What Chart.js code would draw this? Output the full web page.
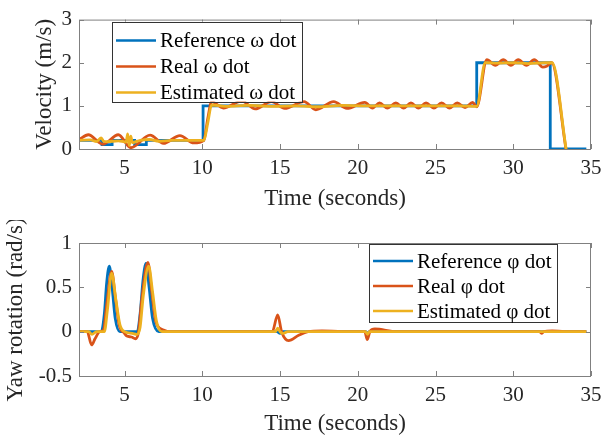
<!DOCTYPE html>
<html>
<head>
<meta charset="utf-8">
<script src="https://cdn.jsdelivr.net/npm/chart.js@4.4.0/dist/chart.umd.min.js"></script>
<style>
  body { margin: 0; background: #fff; }
  canvas { display: block; }
</style>
</head>
<body>
<canvas id="velocity" width="609" height="220"></canvas>
<canvas id="yaw" width="609" height="219"></canvas>
<script>
// tick labels
const timeTicks = [5, 10, 15, 20, 25, 30, 35];
const velTicks = [0, 1, 2, 3];
const yawTicks = [-0.5, 0, 0.5, 1];
const yawTickLabels = ['-0.5', '0', '0.5', '1'];

// top plot: velocity
const refVelT = [2.07, 3.55, 3.55, 4.2, 4.2, 5.65, 5.65, 6.4, 6.4, 10.05, 10.05, 27.65, 27.65, 32.38, 32.38, 34.7];
const refVelY = [0.2, 0.2, 0.1, 0.1, 0.2, 0.2, 0.1, 0.1, 0.2, 0.2, 1, 1, 2, 2, 0, 0];

const realVelT = [2.07, 2.67, 3.6, 4.6, 5.4, 6.64, 7.5, 8.56, 9.45, 10.1, 10.35, 10.6, 11.35, 12.55, 13.4, 14.45, 15.3, 16.55, 17.3, 18.45, 19.3,
  20.45, 20.95, 21.4, 21.9, 22.45, 22.95, 23.42, 23.9, 24.39, 24.9, 25.39, 25.9, 26.4, 26.9, 27.39, 27.65,
  28.3, 28.85, 29.36, 29.85, 30.32, 30.85, 31.35, 31.9, 32.15, 32.47, 33.39];
const realVelY = [0.22, 0.33, 0.11, 0.33, 0.03, 0.32, 0.13, 0.31, 0.14, 0.2, 0.7, 1.1, 0.95, 1.11, 0.93, 1.1, 0.94, 1.1, 0.91, 1.1, 0.94,
  1.08, 0.95, 1.07, 0.95, 1.07, 0.95, 1.07, 0.95, 1.07, 0.95, 1.07, 0.95, 1.07, 0.96, 1.08, 0.98,
  2.07, 1.94, 2.07, 1.94, 2.07, 1.94, 2.07, 1.9, 1.92, 2.0, 0];

const estVelT = [2.07, 2.8, 3.2, 3.5, 3.65, 3.9, 4.6, 5.1, 5.2, 5.3, 5.4, 5.5, 6.0, 6.6, 7.2, 8.0, 9.0, 10.1, 10.35, 10.6, 11.5, 13, 14.5, 16, 17.5,
  19, 20.5, 22, 23.5, 25, 26.5, 27.65, 28.2, 29, 30, 31, 32, 32.5, 33.4];
const estVelY = [0.2, 0.21, 0.17, 0.26, 0.18, 0.17, 0.19, 0.16, 0.35, 0.08, 0.3, 0.15, 0.2, 0.22, 0.18, 0.2, 0.2, 0.2, 0.6, 1.02, 0.99, 1.01, 0.99, 1.0, 0.98,
  1.01, 1.0, 1.0, 1.0, 1.0, 1.0, 0.99, 2.0, 1.99, 2.0, 1.98, 2.0, 2.0, 0];

// bottom plot: yaw rotation
const refYawT = [2.07, 3.5, 3.7, 3.85, 4.02, 4.2, 4.4, 4.7, 5.82, 6.0, 6.2, 6.38, 6.58, 6.8, 7.2, 14.8, 15.0, 15.2, 20.5, 20.62, 20.75, 34.7];
const refYawY = [0, 0, 0.2, 0.55, 0.74, 0.5, 0.15, 0, 0, 0.2, 0.6, 0.77, 0.5, 0.15, 0, 0, -0.02, 0, 0, -0.02, 0, 0];

const realYawT = [2.07, 2.6, 2.88, 3.1, 3.4, 3.65, 3.85, 4.17, 4.4, 4.65, 5.0, 5.15, 5.45, 5.7, 5.9, 6.1, 6.5, 6.75, 7.0, 7.5, 8.0,
  14.5, 14.85, 15.1, 15.55, 16.2, 16.8, 17.7, 19, 20.45, 20.61, 20.78, 21.1, 22.5, 31.7, 31.82, 31.95, 32.5, 33.3, 34.7];
const realYawY = [0, 0, -0.15, -0.08, 0, 0.02, 0.3, 0.68, 0.4, 0.08, -0.02, -0.05, -0.06, -0.08, 0, 0.35, 0.78, 0.45, 0.12, 0.02, 0,
  0, 0.19, 0, -0.1, -0.04, 0, 0.01, 0, 0, -0.09, 0, 0.03, 0, 0, -0.02, 0, 0.01, 0, 0];

const estYawT = [2.07, 2.7, 2.9, 3.2, 3.7, 3.9, 4.17, 4.45, 4.7, 5.0, 5.5, 5.8, 6.0, 6.2, 6.55, 6.8, 7.05, 7.4, 14.7, 14.85, 15.0, 15.2, 15.5,
  20.5, 20.62, 20.75, 34.7];
const estYawY = [0, 0, -0.03, 0, 0, 0.25, 0.66, 0.35, 0.08, 0, -0.02, -0.03, 0.05, 0.4, 0.74, 0.45, 0.12, 0, 0, 0.04, 0, -0.02, 0,
  0, -0.03, 0, 0];

const blue = '#0072BD', orange = '#D95319', yellow = '#EDB120';
const axisGray = '#808080', textColor = '#262626';
const fontFamily = "'Liberation Serif', 'Times New Roman', serif";

function pts(t, y) {
  return t.map((v, i) => ({x: v, y: y[i]}));
}

// box round the axes, with MATLAB-style inward ticks on all four sides
const boxPlugin = {
  id: 'box',
  afterDatasetsDraw(chart) {
    const {ctx, chartArea: a, scales: {x, y}} = chart;
    ctx.save();
    ctx.strokeStyle = axisGray;
    ctx.lineWidth = 1;
    ctx.strokeRect(a.left + 0.5, a.top + 0.5, a.right - a.left - 1, a.bottom - a.top);
    ctx.beginPath();
    x.ticks.forEach(t => {
      const px = Math.round(x.getPixelForValue(t.value)) + 0.5;
      ctx.moveTo(px, a.bottom); ctx.lineTo(px, a.bottom - 5);
      ctx.moveTo(px, a.top); ctx.lineTo(px, a.top + 5);
    });
    y.ticks.forEach(t => {
      const py = Math.round(y.getPixelForValue(t.value)) + 0.5;
      ctx.moveTo(a.left, py); ctx.lineTo(a.left + 5, py);
      ctx.moveTo(a.right, py); ctx.lineTo(a.right - 5, py);
    });
    ctx.stroke();
    ctx.restore();
  }
};

// legend inside the axes, with a border
const boxLegend = {
  id: 'boxLegend',
  afterDraw(chart, args, opts) {
    const {ctx, chartArea: a} = chart;
    const left = opts.right != null ? a.right - opts.right - opts.width : a.left + opts.left;
    const top = a.top + opts.top;
    ctx.save();
    ctx.fillStyle = '#fff';
    ctx.fillRect(left, top, opts.width, opts.height);
    ctx.strokeStyle = '#333';
    ctx.lineWidth = 1;
    ctx.strokeRect(Math.round(left) + 0.5, Math.round(top) + 0.5, opts.width, opts.height);
    ctx.font = '21px ' + fontFamily;
    ctx.textBaseline = 'middle';
    chart.data.datasets.forEach((ds, i) => {
      const cy = top + opts.firstRow + i * opts.rowGap;
      ctx.strokeStyle = ds.borderColor;
      ctx.lineWidth = 2.5;
      ctx.beginPath();
      ctx.moveTo(left + 4, cy);
      ctx.lineTo(left + 44, cy);
      ctx.stroke();
      ctx.fillStyle = '#000';
      ctx.fillText(ds.label, left + 48, cy + 1);
    });
    ctx.restore();
  }
};

function makeChart(id, sets, yMin, yMax, yTicks, yLabel, yFmt, lay) {
  return new Chart(document.getElementById(id), {
    type: 'line',
    data: {
      datasets: sets.map(s => ({
        label: s.label,
        data: pts(s.t, s.y),
        borderColor: s.color,
        borderWidth: 2.8,
        pointRadius: 0,
        cubicInterpolationMode: s.smooth ? 'monotone' : 'default',
        tension: 0,
        order: s.order
      }))
    },
    options: {
      responsive: false,
      animation: false,
      devicePixelRatio: 1,
      layout: {padding: {left: 0, right: 18, top: lay.top, bottom: 0}},
      plugins: {
        legend: {display: false},
        tooltip: {enabled: false},
        boxLegend: lay.legend
      },
      scales: {
        x: {
          type: 'linear',
          min: 2.07,
          max: 35,
          afterBuildTicks: s => { s.ticks = timeTicks.map(v => ({value: v})); },
          afterFit: s => { s.height = lay.xHeight; },
          grid: {display: false, drawTicks: false},
          border: {display: false},
          ticks: {color: textColor, font: {family: fontFamily, size: 21}, padding: 7, maxRotation: 0},
          title: {display: true, text: 'Time (seconds)', color: textColor,
            font: {family: fontFamily, size: 23}, padding: {top: 0, bottom: lay.xTitlePad}}
        },
        y: {
          min: yMin,
          max: yMax,
          afterBuildTicks: s => { s.ticks = yTicks.map(v => ({value: v})); },
          afterFit: s => { s.width = 79; },
          grid: {display: false, drawTicks: false},
          border: {display: false},
          ticks: {color: textColor, font: {family: fontFamily, size: 21}, padding: 7, callback: yFmt},
          title: {display: true, text: yLabel, color: textColor,
            font: {family: fontFamily, size: 23}, padding: {top: lay.yTitlePad, bottom: 0}}
        }
      }
    },
    plugins: [boxPlugin, boxLegend]
  });
}

makeChart('velocity', [
  {label: 'Reference ω dot', t: refVelT, y: refVelY, color: blue, order: 2},
  {label: 'Real ω dot', t: realVelT, y: realVelY, color: orange, smooth: true, order: 1},
  {label: 'Estimated ω dot', t: estVelT, y: estVelY, color: yellow, smooth: true, order: 0}
], 0, 3, velTicks, 'Velocity (m/s)', v => String(v), {
  top: 14, xHeight: 71, xTitlePad: 7, yTitlePad: 31,
  legend: {left: 33, top: 2, width: 190, height: 80, firstRow: 19, rowGap: 26}
});

makeChart('yaw', [
  {label: 'Reference φ dot', t: refYawT, y: refYawY, color: blue, smooth: true, order: 2},
  {label: 'Real φ dot', t: realYawT, y: realYawY, color: orange, smooth: true, order: 1},
  {label: 'Estimated φ dot', t: estYawT, y: estYawY, color: yellow, smooth: true, order: 0}
], -0.5, 1, yawTicks, 'Yaw rotation (rad/s)', v => yawTickLabels[yawTicks.indexOf(v)], {
  top: 23, xHeight: 63, xTitlePad: 1, yTitlePad: 2,
  legend: {right: 34, top: 1, width: 188, height: 78, firstRow: 17, rowGap: 25}
});
</script>
</body>
</html>
